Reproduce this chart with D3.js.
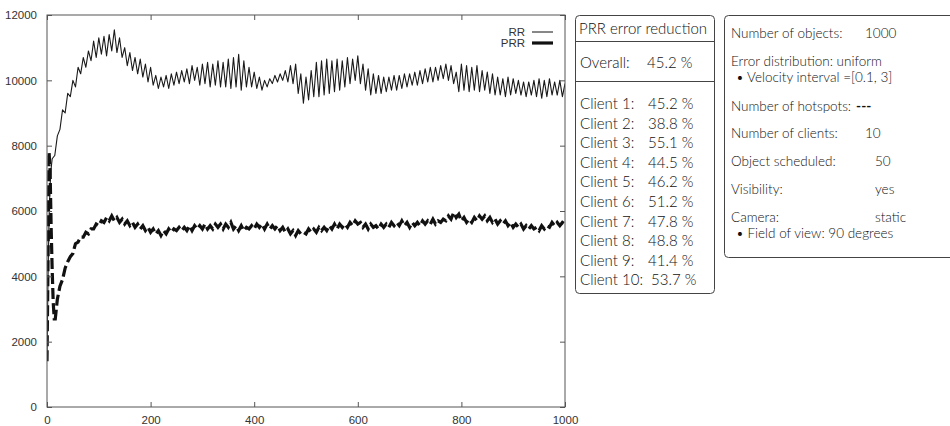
<!DOCTYPE html>
<html>
<head>
<meta charset="utf-8">
<script src="https://cdn.jsdelivr.net/npm/d3@7"></script>
<style>
  body { margin: 0; background: #fff; }
  .panel-text { font-family: Lato, "Open Sans", sans-serif; font-weight: 300; fill: #111; }
</style>
</head>
<body>
<svg width="950" height="426"></svg>
<script>
/*------------------------
  ------ VARIABLES -------
  ------------------------*/

// RR curve: first points by hand, then one value every 5 units from x = 10
var rrEarlyX = [0, 2, 4, 6, 8];
var rrEarly = [1500, 4000, 5800, 6800, 7300];
var rrStart = 10, rrStep = 5;
var rrValues = [
  7600, 7700, 8300, 8500, 9100, 9000, 9600, 9500, 10000, 9800,
  10400, 10200, 10700, 10400, 10900, 10600, 11200, 10700, 11300, 10800,
  11350, 10750, 11400, 10900, 11550, 10850, 11300, 10700, 11000, 10450,
  10850, 10300, 10700, 10200, 10650, 10100, 10500, 9950, 10400, 9850,
  10150, 9750, 10100, 9800, 10150, 9750, 10200, 9850, 10250, 9900,
  10300, 9950, 10350, 9900, 10450, 10000, 10400, 9850, 10500, 9900,
  10550, 9800, 10500, 9850, 10600, 9800, 10550, 9800, 10650, 9750,
  10700, 9800, 10800, 9700, 10600, 9800, 10400, 9800, 10250, 9750,
  10100, 9700, 10000, 9800, 10050, 9900, 10150, 9950, 10200, 10000,
  10300, 9950, 10450, 9900, 10500, 9600, 10200, 9300, 10100, 9400,
  10300, 9500, 10550, 9500, 10600, 9550, 10650, 9600, 10600, 9650,
  10650, 9700, 10600, 9800, 10700, 9900, 10650, 10000, 10750, 9900,
  10500, 9700, 10350, 9550, 10200, 9600, 10150, 9600, 10100, 9650,
  10100, 9700, 10150, 9700, 10150, 9750, 10200, 9800, 10200, 9850,
  10250, 9850, 10300, 9900, 10350, 9950, 10400, 9950, 10400, 10000,
  10450, 10050, 10500, 10000, 10450, 9900, 10250, 9650, 10500, 9700,
  10450, 9650, 10400, 9700, 10450, 9650, 10300, 9700, 10250, 9600,
  10200, 9550, 10100, 9550, 10050, 9500, 10100, 9550, 10050, 9600,
  10000, 9550, 9950, 9500, 9950, 9550, 10000, 9500, 10050, 9450,
  10000, 9500, 10050, 9550, 9950, 9550, 10000, 9500, 9900
];

// PRR curve: early spike by hand, then one value every 5 units from x = 20
var prrEarlyX = [0, 2, 4, 6, 8, 10, 12, 14, 16];
var prrEarly = [1400, 4500, 7800, 7200, 5500, 4200, 3200, 2700, 2700];
var prrStart = 20, prrStep = 5;
var prrValues = [
  3300, 3700, 3900, 4250, 4450, 4600, 4700, 5000, 5050, 5200,
  5200, 5350, 5300, 5450, 5450, 5600, 5550, 5700, 5650, 5800,
  5700, 5850, 5700, 5800, 5650, 5750, 5600, 5700, 5550, 5650,
  5500, 5600, 5450, 5550, 5400, 5500, 5350, 5450, 5300, 5400,
  5250, 5400, 5300, 5450, 5350, 5450, 5400, 5500, 5400, 5500,
  5400, 5550, 5400, 5550, 5450, 5550, 5450, 5600, 5450, 5550,
  5450, 5600, 5500, 5600, 5450, 5600, 5500, 5650, 5450, 5550,
  5400, 5550, 5400, 5500, 5450, 5550, 5450, 5600, 5500, 5600,
  5450, 5600, 5450, 5550, 5450, 5550, 5400, 5500, 5350, 5450,
  5300, 5400, 5250, 5400, 5300, 5350, 5300, 5450, 5350, 5450,
  5350, 5500, 5400, 5500, 5400, 5550, 5450, 5600, 5450, 5600,
  5500, 5600, 5500, 5650, 5550, 5700, 5600, 5650, 5500, 5600,
  5450, 5600, 5500, 5550, 5450, 5600, 5500, 5600, 5500, 5650,
  5550, 5650, 5550, 5700, 5550, 5650, 5500, 5650, 5550, 5650,
  5550, 5700, 5600, 5700, 5600, 5750, 5600, 5700, 5650, 5750,
  5700, 5850, 5750, 5950, 5800, 5900, 5700, 5800, 5650, 5750,
  5650, 5800, 5700, 5850, 5750, 5850, 5700, 5800, 5650, 5750,
  5600, 5700, 5600, 5700, 5550, 5650, 5500, 5600, 5500, 5600,
  5450, 5550, 5450, 5550, 5450, 5500, 5400, 5550, 5450, 5550,
  5500, 5650, 5550, 5650, 5550, 5650, 5600
];

// axes
var xTicks = [0, 200, 400, 600, 800, 1000];
var yTicks = [0, 2000, 4000, 6000, 8000, 10000, 12000];
var seriesNames = ["RR", "PRR"];

// side panels
var reductionTitle = "PRR error reduction";
var overallLabel = "Overall:";
var overallReduction = 45.2;
var clientLabels = ["Client 1:", "Client 2:", "Client 3:", "Client 4:", "Client 5:",
                    "Client 6:", "Client 7:", "Client 8:", "Client 9:", "Client 10:"];
var clientReduction = [45.2, 38.8, 55.1, 44.5, 46.2, 51.2, 47.8, 48.8, 41.4, 53.7];

var settingLabels = ["Number of objects:", "Error distribution: uniform", "\u2022 Velocity interval =[0.1, 3]",
                     "Number of hotspots:", "Number of clients:", "Object scheduled:",
                     "Visibility:", "Camera:", "\u2022 Field of view: 90 degrees"];
var settingValues = ["1000", "", "", "---", "10", "50", "yes", "static", ""];

// display settings
var plot = {left: 47, right: 565, top: 15, bottom: 407};
var tickLen = 5;
var axisFont = "'Liberation Sans', Arial, sans-serif";


/*------------------------
  ------- BUILD ----------
  ------------------------*/

function series(earlyX, early, start, step, values) {
    var pts = earlyX.map(function(x, i) { return {x: x, y: early[i]}; });
    values.forEach(function(v, i) { pts.push({x: start + i*step, y: v}); });
    return pts;
}

var rr = series(rrEarlyX, rrEarly, rrStart, rrStep, rrValues);
var prr = series(prrEarlyX, prrEarly, prrStart, prrStep, prrValues);

var svg = d3.select("svg");
svg.append("rect").attr("width", 950).attr("height", 426).attr("fill", "#fff");

var x = d3.scaleLinear().domain([0, 1000]).range([plot.left, plot.right]);
var y = d3.scaleLinear().domain([0, 12000]).range([plot.bottom, plot.top]);

svg.append("clipPath").attr("id", "clip")
    .append("rect")
    .attr("x", plot.left).attr("y", plot.top)
    .attr("width", plot.right - plot.left).attr("height", plot.bottom - plot.top);

var line = d3.line().x(function(d) { return x(d.x); }).y(function(d) { return y(d.y); });

var curves = svg.append("g").attr("clip-path", "url(#clip)");
curves.append("path").datum(rr)
    .attr("d", line).attr("fill", "none")
    .attr("stroke", "#1a1a1a").attr("stroke-width", 1.1)
    .attr("stroke-linejoin", "round");
curves.append("path").datum(prr)
    .attr("d", line).attr("fill", "none")
    .attr("stroke", "#111").attr("stroke-width", 3.2)
    .attr("stroke-dasharray", "11,4");

// axes (gnuplot style: ticks inside, mirrored)
var axisColor = "#555";
var fmt = d3.format("d");
function styleAxis(g) {
    g.select(".domain").remove();
    g.attr("font-family", axisFont).attr("font-size", 11.5);
    g.selectAll(".tick text").attr("fill", "#333");
    g.selectAll(".tick line").attr("stroke", axisColor);
}
svg.append("g").attr("transform", "translate(0," + plot.bottom + ")")
    .call(d3.axisBottom(x).tickValues(xTicks).tickSize(-tickLen).tickPadding(9).tickFormat(fmt))
    .call(styleAxis);
svg.append("g").attr("transform", "translate(0," + plot.top + ")")
    .call(d3.axisTop(x).tickValues(xTicks).tickSize(-tickLen).tickFormat(""))
    .call(styleAxis);
svg.append("g").attr("transform", "translate(" + plot.left + ",0)")
    .call(d3.axisLeft(y).tickValues(yTicks).tickSize(-tickLen).tickPadding(10).tickFormat(fmt))
    .call(styleAxis);
svg.append("g").attr("transform", "translate(" + plot.right + ",0)")
    .call(d3.axisRight(y).tickValues(yTicks).tickSize(-tickLen).tickFormat(""))
    .call(styleAxis);

svg.append("rect")
    .attr("x", plot.left).attr("y", plot.top)
    .attr("width", plot.right - plot.left).attr("height", plot.bottom - plot.top)
    .attr("fill", "none").attr("stroke", axisColor).attr("stroke-width", 1);

// legend
var legend = svg.append("g").attr("transform", "translate(525,36)")
    .attr("font-family", axisFont).attr("font-size", 11.5).attr("fill", "#333");
seriesNames.forEach(function(name, i) {
    legend.append("text")
        .attr("x", 0).attr("y", i*11).attr("text-anchor", "end").text(name);
    legend.append("line")
        .attr("x1", 7).attr("x2", 28).attr("y1", i*11 - 4).attr("y2", i*11 - 4)
        .attr("stroke", "#111").attr("stroke-width", i == 0 ? 1 : 3.2);
});

// PRR error reduction panel
var p1 = svg.append("g").attr("font-size", 15);
p1.append("rect")
    .attr("x", 575.5).attr("y", 15.5).attr("width", 139).attr("height", 278)
    .attr("rx", 4).attr("fill", "none").attr("stroke", "#444");
p1.append("line").attr("x1", 575.5).attr("x2", 714.5).attr("y1", 41.5).attr("y2", 41.5).attr("stroke", "#444");
p1.append("line").attr("x1", 575.5).attr("x2", 714.5).attr("y1", 81.5).attr("y2", 81.5).attr("stroke", "#444");
p1.append("text").attr("class", "panel-text").attr("x", 579).attr("y", 34).text(reductionTitle);
p1.append("text").attr("class", "panel-text").attr("x", 580).attr("y", 68).text(overallLabel);
p1.append("text").attr("class", "panel-text").attr("x", 647).attr("y", 68).text(overallReduction.toFixed(1) + " %");
clientLabels.forEach(function(lab, i) {
    var yy = 109 + i*19.6;
    p1.append("text").attr("class", "panel-text").attr("x", 580).attr("y", yy).text(lab);
    p1.append("text").attr("class", "panel-text").attr("x", i == 9 ? 651 : 648).attr("y", yy)
        .text(clientReduction[i].toFixed(1) + " %");
});

// settings panel
var settingY = [38, 66, 82, 111, 138, 166, 194, 222, 238];
var p2 = svg.append("g").attr("font-size", 13.5);
p2.append("rect")
    .attr("x", 724.5).attr("y", 15.5).attr("width", 240).attr("height", 242)
    .attr("rx", 4).attr("fill", "none").attr("stroke", "#444");
settingLabels.forEach(function(lab, i) {
    var indent = lab.charAt(0) == "\u2022" ? 736 : 731;
    var t = p2.append("text").attr("class", "panel-text").attr("x", indent).attr("y", settingY[i]).text(lab);
    if (settingValues[i] != "") {
        var vx = i < 5 ? 865 : 875;
        var v = p2.append("text").attr("class", "panel-text").attr("y", settingY[i]).text(settingValues[i]);
        if (settingValues[i] == "---") {
            vx = indent + t.node().getComputedTextLength() + 5;
            v.style("font-weight", 700);
        }
        v.attr("x", vx);
    }
});
</script>
</body>
</html>
